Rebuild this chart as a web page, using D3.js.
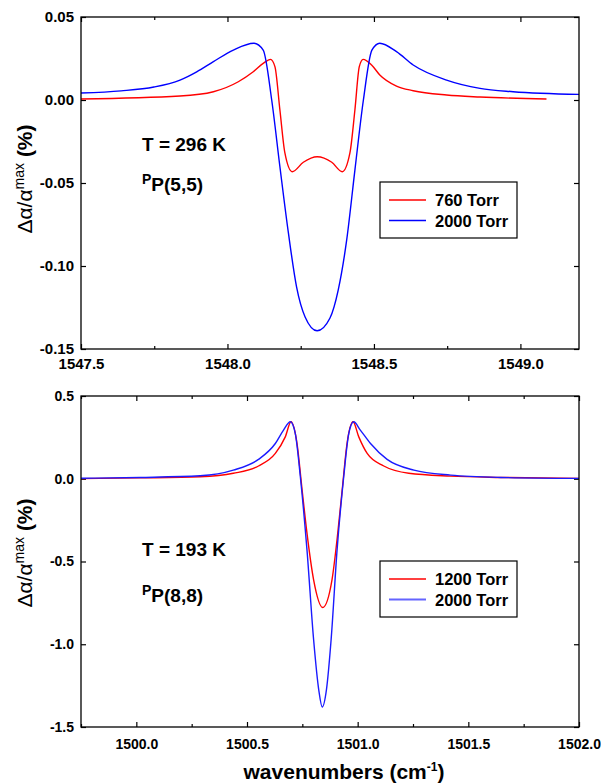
<!DOCTYPE html>
<html>
<head>
<meta charset="utf-8">
<script src="https://cdn.jsdelivr.net/npm/d3@7"></script>
<style>
  body { margin: 0; background: #fff; }
  svg { display: block; font-family: Arial, "Liberation Sans", sans-serif; }
  .tick text { font-weight: bold; fill: #000; }
  .domain { display: none; }
</style>
</head>
<body>
<svg id="chart" width="601" height="784"></svg>
<script>
// top panel, T = 296 K, PP(5,5)
const topRedX = [1547.500, 1547.838, 1547.952, 1548.037, 1548.088, 1548.122, 1548.147, 1548.162, 1548.179, 1548.196, 1548.221, 1548.259, 1548.306, 1548.356, 1548.392, 1548.418, 1548.435, 1548.450, 1548.463, 1548.492, 1548.520, 1548.577, 1548.634, 1548.748, 1548.862, 1549.089];
const topRedY = [0.0006, 0.0024, 0.0050, 0.0110, 0.0170, 0.0221, 0.0245, 0.0201, -0.0060, -0.0319, -0.0432, -0.0375, -0.0342, -0.0375, -0.0432, -0.0319, -0.0060, 0.0201, 0.0245, 0.0211, 0.0151, 0.0084, 0.0056, 0.0030, 0.0018, 0.0006];
const topBlueX = [1547.500, 1547.637, 1547.749, 1547.838, 1547.895, 1547.952, 1548.020, 1548.090, 1548.122, 1548.151, 1548.179, 1548.208, 1548.236, 1548.265, 1548.306, 1548.350, 1548.378, 1548.407, 1548.435, 1548.464, 1548.493, 1548.520, 1548.577, 1548.634, 1548.748, 1548.862, 1548.975, 1549.200];
const topBlueY = [0.0042, 0.0055, 0.0078, 0.0120, 0.0170, 0.0231, 0.0301, 0.0342, 0.0301, 0.0000, -0.0402, -0.0801, -0.1127, -0.1307, -0.1390, -0.1313, -0.1145, -0.0843, -0.0422, 0.0000, 0.0300, 0.0342, 0.0291, 0.0211, 0.0120, 0.0070, 0.0050, 0.0034];

// bottom panel, T = 193 K, PP(8,8)
const botRedX = [1499.750, 1500.017, 1500.288, 1500.438, 1500.552, 1500.628, 1500.673, 1500.699, 1500.726, 1500.749, 1500.771, 1500.801, 1500.842, 1500.884, 1500.910, 1500.930, 1500.952, 1500.979, 1501.005, 1501.043, 1501.118, 1501.231, 1501.420, 1501.646, 1502.000];
const botRedY = [0.001, 0.005, 0.012, 0.033, 0.077, 0.153, 0.253, 0.344, 0.213, -0.068, -0.329, -0.611, -0.778, -0.611, -0.329, -0.068, 0.213, 0.344, 0.253, 0.153, 0.077, 0.033, 0.016, 0.008, 0.002];
const botBlueX = [1499.750, 1500.017, 1500.288, 1500.438, 1500.552, 1500.628, 1500.665, 1500.696, 1500.718, 1500.741, 1500.771, 1500.801, 1500.824, 1500.840, 1500.859, 1500.880, 1500.907, 1500.937, 1500.960, 1500.982, 1501.012, 1501.058, 1501.133, 1501.254, 1501.420, 1501.646, 1502.000];
const botBlueY = [0.003, 0.008, 0.018, 0.052, 0.117, 0.213, 0.294, 0.344, 0.274, 0.012, -0.430, -0.973, -1.274, -1.379, -1.274, -0.973, -0.430, 0.012, 0.274, 0.344, 0.294, 0.213, 0.117, 0.052, 0.022, 0.008, 0.002];

const topXTicks = [1547.5, 1548.0, 1548.5, 1549.0];
const topXMinor = [1547.75, 1548.25, 1548.75];
const topYTicks = [0.05, 0.00, -0.05, -0.10, -0.15];
const botXTicks = [1500.0, 1500.5, 1501.0, 1501.5, 1502.0];
const botXMinor = [1499.75, 1500.25, 1500.75, 1501.25, 1501.75];
const botYTicks = [0.5, 0.0, -0.5, -1.0, -1.5];

const svg = d3.select('#chart');
svg.append('rect').attr('width', 601).attr('height', 784).attr('fill', '#fff');

function drawPanel(opt) {
  const x = d3.scaleLinear().domain(opt.xDomain).range([81, 579]);
  const y = d3.scaleLinear().domain(opt.yDomain).range([opt.bottom, opt.top]);
  const g = svg.append('g');

  // ticks, pointing inward on all four sides
  const addAxis = (axis, tx, ty, fs) => {
    const a = g.append('g').attr('transform', `translate(${tx},${ty})`).call(axis);
    a.selectAll('.tick line').attr('stroke', '#000').attr('stroke-width', 1.2);
    a.selectAll('.tick text').style('font-size', fs + 'px');
    return a;
  };
  addAxis(d3.axisBottom(x).tickValues(opt.xTicks).tickSize(-5).tickPadding(opt.xPad).tickFormat(d => d.toFixed(1)), 0, opt.bottom, opt.xFont);
  addAxis(d3.axisBottom(x).tickValues(opt.xMinor).tickSize(-3).tickFormat(''), 0, opt.bottom, 10);
  addAxis(d3.axisTop(x).tickValues(opt.xTicks).tickSize(-5).tickFormat(''), 0, opt.top, 10);
  addAxis(d3.axisTop(x).tickValues(opt.xMinor).tickSize(-3).tickFormat(''), 0, opt.top, 10);
  addAxis(d3.axisLeft(y).tickValues(opt.yTicks).tickSize(-5).tickPadding(7).tickFormat(d => d.toFixed(opt.yDigits)), 81, 0, opt.yFont);
  addAxis(d3.axisRight(y).tickValues(opt.yTicks).tickSize(-5).tickFormat(''), 579, 0, 10);

  const line = d3.line()
    .x(d => x(d[0]))
    .y(d => y(d[1]))
    .curve(d3.curveMonotoneX);

  opt.series.forEach(s => {
    g.append('path')
      .datum(d3.zip(s.xs, s.ys))
      .attr('fill', 'none')
      .attr('stroke', s.color)
      .attr('stroke-width', 1.4)
      .attr('d', line);
  });

  g.append('rect')
    .attr('x', 81).attr('y', opt.top)
    .attr('width', 579 - 81).attr('height', opt.bottom - opt.top)
    .attr('fill', 'none').attr('stroke', '#000').attr('stroke-width', 1.3);

  // annotations
  g.append('text')
    .attr('x', 142).attr('y', opt.top + opt.tempDy)
    .style('font-size', '19px').style('font-weight', 'bold')
    .text(opt.temp);
  const br = g.append('text')
    .attr('x', 142).attr('y', opt.top + opt.tempDy + opt.branchDy)
    .style('font-size', '19px').style('font-weight', 'bold');
  br.append('tspan').attr('dy', -7).style('font-size', '14px').text('P');
  br.append('tspan').attr('dy', 7).text(opt.branch);

  // legend
  const lg = g.append('g').attr('transform', `translate(380,${opt.legendY})`);
  lg.append('rect').attr('width', 137).attr('height', 56)
    .attr('fill', '#fff').attr('stroke', '#000').attr('stroke-width', 1.2);
  opt.series.forEach((s, i) => {
    const yy = 18 + i * 20.5;
    lg.append('line').attr('x1', 9).attr('x2', 46).attr('y1', yy).attr('y2', yy)
      .attr('stroke', s.legendColor || s.color).attr('stroke-width', s.legendWidth || 1.3);
    lg.append('text').attr('x', 55).attr('y', yy + 6)
      .style('font-size', '16.5px').style('font-weight', 'bold').text(s.name);
  });

  // y axis title
  const yt = g.append('text')
    .attr('transform', `translate(32,${opt.yTitleY}) rotate(-90)`)
    .attr('text-anchor', 'middle')
    .style('font-size', '21px');
  yt.append('tspan').text('Δα/α');
  yt.append('tspan').attr('dy', -8).style('font-size', '14px').text('max');
  yt.append('tspan').attr('dy', 8).style('font-weight', 'bold').text(' (%)');
}

drawPanel({
  xDomain: [1547.5, 1549.2], yDomain: [-0.15, 0.05], top: 17, bottom: 349,
  xTicks: topXTicks, xMinor: topXMinor, yTicks: topYTicks, yDigits: 2,
  xFont: 15, yFont: 15, xPad: 9,
  temp: 'T = 296 K', branch: 'P(5,5)', tempDy: 134, branchDy: 40,
  legendY: 182, yTitleY: 179,
  series: [
    { name: '760 Torr', xs: topRedX, ys: topRedY, color: '#ff0000' },
    { name: '2000 Torr', xs: topBlueX, ys: topBlueY, color: '#0000ff' }
  ]
});

drawPanel({
  xDomain: [1499.75, 1502.0], yDomain: [-1.5, 0.5], top: 396, bottom: 727,
  xTicks: botXTicks, xMinor: botXMinor, yTicks: botYTicks, yDigits: 1,
  xFont: 14, yFont: 14, xPad: 12,
  temp: 'T = 193 K', branch: 'P(8,8)', tempDy: 160, branchDy: 46,
  legendY: 561, yTitleY: 553,
  series: [
    { name: '1200 Torr', xs: botRedX, ys: botRedY, color: '#ff0000' },
    { name: '2000 Torr', xs: botBlueX, ys: botBlueY, color: '#1a1aff', legendColor: '#6464ff', legendWidth: 2 }
  ]
});

// x axis title
const xt = svg.append('text')
  .attr('x', 344).attr('y', 779)
  .attr('text-anchor', 'middle')
  .style('font-size', '21px').style('font-weight', 'bold');
xt.append('tspan').text('wavenumbers (cm');
xt.append('tspan').attr('dy', -8).style('font-size', '12px').text('-1');
xt.append('tspan').attr('dy', 8).text(')');
</script>
</body>
</html>
